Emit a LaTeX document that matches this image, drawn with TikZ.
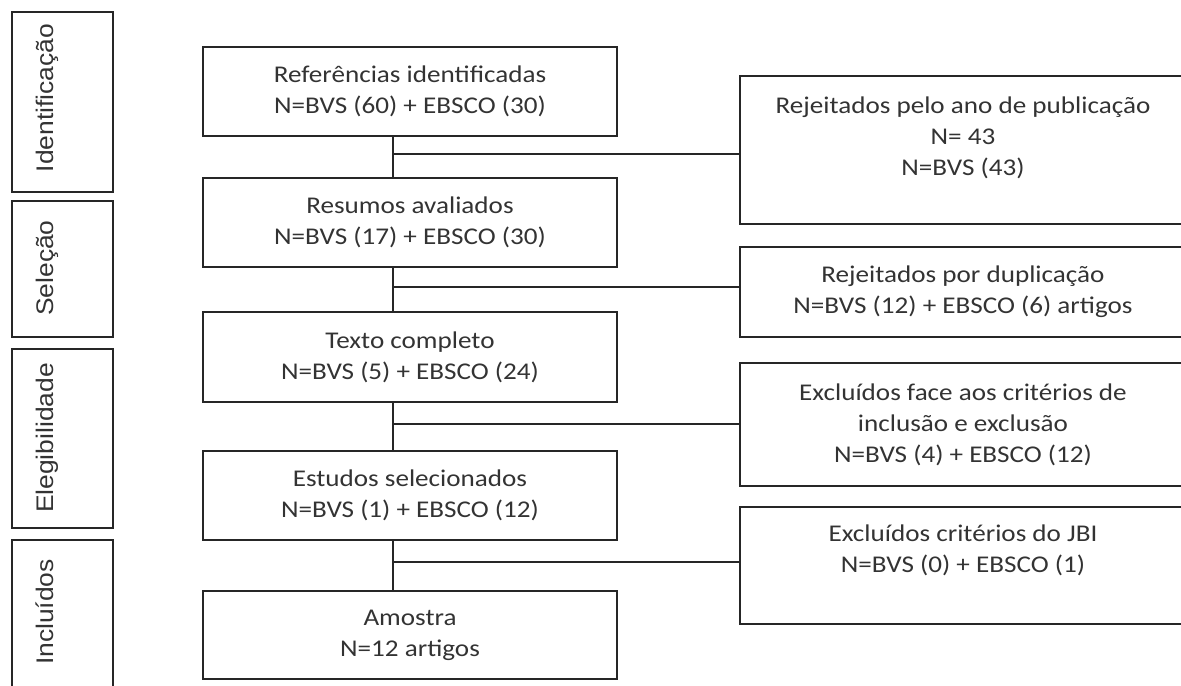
\documentclass[tikz,border=0pt]{standalone}
\usepackage{fontspec}
\setmainfont{Carlito}[FakeStretch=1.13]
\newfontfamily\stagefont{Liberation Sans}[FakeStretch=1.1]
\usepackage{tikz}
\usepackage{xcolor}
\colorlet{boxline}{black!85}
\colorlet{boxtext}{black!80}
\tikzstyle{stepbox}=[draw=boxline,line width=1pt,minimum width=207pt,minimum height=44.5pt,align=center,text=boxtext,font=\fontsize{12}{15.5}\selectfont,inner sep=2pt]
\tikzstyle{outbox}=[stepbox,minimum width=223pt]
\tikzstyle{stagebox}=[draw=boxline,line width=1pt,minimum width=50.5pt,inner sep=0pt]
\tikzstyle{stagelabel}=[rotate=90,anchor=base,text=boxtext,font=\stagefont\fontsize{12}{14}\selectfont,inner sep=0pt]
\tikzstyle{link}=[boxline,line width=1pt]

\begin{document}
\begin{tikzpicture}[x=0.5pt,y=-0.5pt]
			
			\path[use as bounding box] (0,0) rectangle (1181,685);
			\clip (0,0) rectangle (1181,685);
			\def\mx{410}      % centre of the main column
			\def\rx{963}      % centre of the excluded column
			\def\sx{62.5}     % centre of the stage column
			\def\trunk{393}   % x of the vertical line
			
			% STAGES
			\node[stagebox,minimum height=90pt] (s1) at (\sx,102) {};
			\node[stagebox,minimum height=68pt] (s2) at (\sx,269) {};
			\node[stagebox,minimum height=89.5pt] (s3) at (\sx,438.5) {};
			\node[stagebox,minimum height=75pt] (s4) at (\sx,615) {};
			\node[stagelabel] (t1) at (53,98) {Identificação};
			\node[stagelabel] (t2) at (53,268) {Seleção};
			\node[stagelabel] (t3) at (53,438) {Elegibilidade};
			\node[stagelabel] (t4) at (53,612) {Incluídos};
			
			% MAIN COLUMN
			\node[stepbox] (b1) at (\mx,91.5) {Referências identificadas\\N=BVS (60) + EBSCO (30)};
			\node[stepbox] (b2) at (\mx,222.5) {Resumos avaliados\\N=BVS (17) + EBSCO (30)};
			\node[stepbox,minimum height=45pt] (b3) at (\mx,357) {Texto completo\\N=BVS (5) + EBSCO (24)};
			\node[stepbox] (b4) at (\mx,495.5) {Estudos selecionados\\N=BVS (1) + EBSCO (12)};
			\node[stepbox,minimum height=44pt] (b5) at (\mx,635) {Amostra\\N=12 artigos};
			
			% EXCLUDED
			\node[outbox,minimum height=74pt,text depth=14pt] (r1) at (\rx,150) {Rejeitados pelo ano de publicação\\N= 43\\N=BVS (43)};
			\node[outbox,minimum height=45pt] (r2) at (\rx,292) {Rejeitados por duplicação\\N=BVS (12) + EBSCO (6) artigos};
			\node[outbox,minimum height=61.5pt] (r3) at (\rx,424.5) {Excluídos face aos critérios de\\inclusão e exclusão\\N=BVS (4) + EBSCO (12)};
			\node[outbox,minimum height=58.5pt,text depth=16.5pt] (r4) at (\rx,565.5) {Excluídos critérios do JBI\\N=BVS (0) + EBSCO (1)};
			
			% LINES
			\coordinate (j1) at (\trunk,154);
			\coordinate (j2) at (\trunk,287);
			\coordinate (j3) at (\trunk,424);
			\coordinate (j4) at (\trunk,562);
			\draw[link] (b1.south -| j1) -- (b2.north -| j1);
			\draw[link] (j1) -- (j1 -| r1.west);
			\draw[link] (b2.south -| j2) -- (b3.north -| j2);
			\draw[link] (j2) -- (j2 -| r2.west);
			\draw[link] (b3.south -| j3) -- (b4.north -| j3);
			\draw[link] (j3) -- (j3 -| r3.west);
			\draw[link] (b4.south -| j4) -- (b5.north -| j4);
			\draw[link] (j4) -- (j4 -| r4.west);
			
		\end{tikzpicture}
\end{document}
